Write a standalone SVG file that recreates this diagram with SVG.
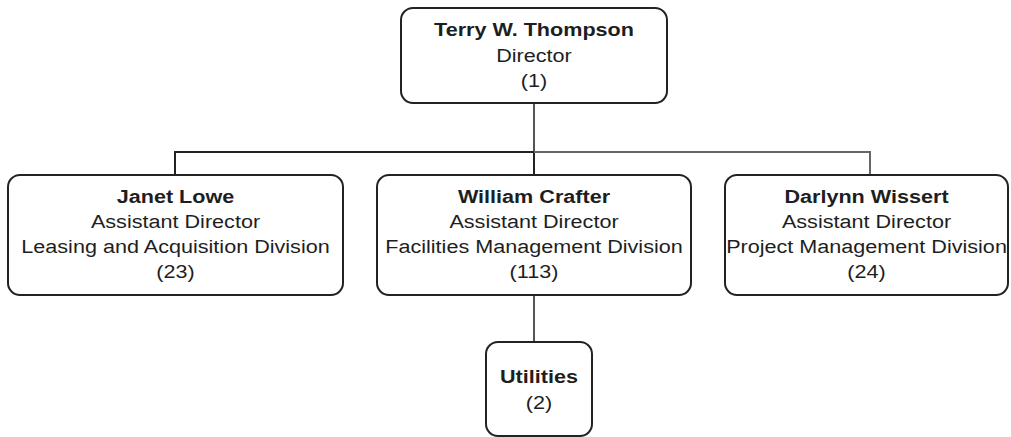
<svg xmlns="http://www.w3.org/2000/svg" width="1011" height="437" viewBox="0 0 1011 437">
<style>
.box{fill:#fff;stroke:#222;stroke-width:2}
.t{font-family:"Liberation Sans",Arial,sans-serif;font-size:19px;fill:#1e1e1e;text-anchor:middle}
.b{font-weight:bold}
.c{fill:none;stroke-width:2}
</style>
<rect width="1011" height="437" fill="#fff"/>
<g id="connectors">
<path class="c" stroke="#555" d="M534 103V152"/>
<path class="c" stroke="#222" d="M175 175V152H534V175"/>
<path class="c" stroke="#666" d="M534 152H870V175"/>
<path class="c" stroke="#555" d="M534 295V342"/>
</g>
<g id="director">
<rect class="box" x="401" y="8" width="266" height="95" rx="12"/>
<g transform="translate(534 0) scale(1.137 1)">
<text class="t b" x="0" y="36">Terry W. Thompson</text>
<text class="t" x="0" y="62">Director</text>
<text class="t" x="0" y="87">(1)</text>
</g>
</g>
<g id="lowe">
<rect class="box" x="8" y="175" width="335" height="120" rx="12"/>
<g transform="translate(175.5 0) scale(1.137 1)">
<text class="t b" x="0" y="203">Janet Lowe</text>
<text class="t" x="0" y="228">Assistant Director</text>
<text class="t" x="0" y="253">Leasing and Acquisition Division</text>
<text class="t" x="0" y="278">(23)</text>
</g>
</g>
<g id="crafter">
<rect class="box" x="377" y="175" width="314" height="120" rx="12"/>
<g transform="translate(534 0) scale(1.137 1)">
<text class="t b" x="0" y="203">William Crafter</text>
<text class="t" x="0" y="228">Assistant Director</text>
<text class="t" x="0" y="253">Facilities Management Division</text>
<text class="t" x="0" y="278">(113)</text>
</g>
</g>
<g id="wissert">
<rect class="box" x="725" y="175" width="283" height="120" rx="12"/>
<g transform="translate(866.5 0) scale(1.137 1)">
<text class="t b" x="0" y="203">Darlynn Wissert</text>
<text class="t" x="0" y="228">Assistant Director</text>
<text class="t" x="0" y="253">Project Management Division</text>
<text class="t" x="0" y="278">(24)</text>
</g>
</g>
<g id="utilities">
<rect class="box" x="486" y="342" width="106" height="94" rx="12"/>
<g transform="translate(539 0) scale(1.137 1)">
<text class="t b" x="0" y="383">Utilities</text>
<text class="t" x="0" y="409">(2)</text>
</g>
</g>
</svg>
